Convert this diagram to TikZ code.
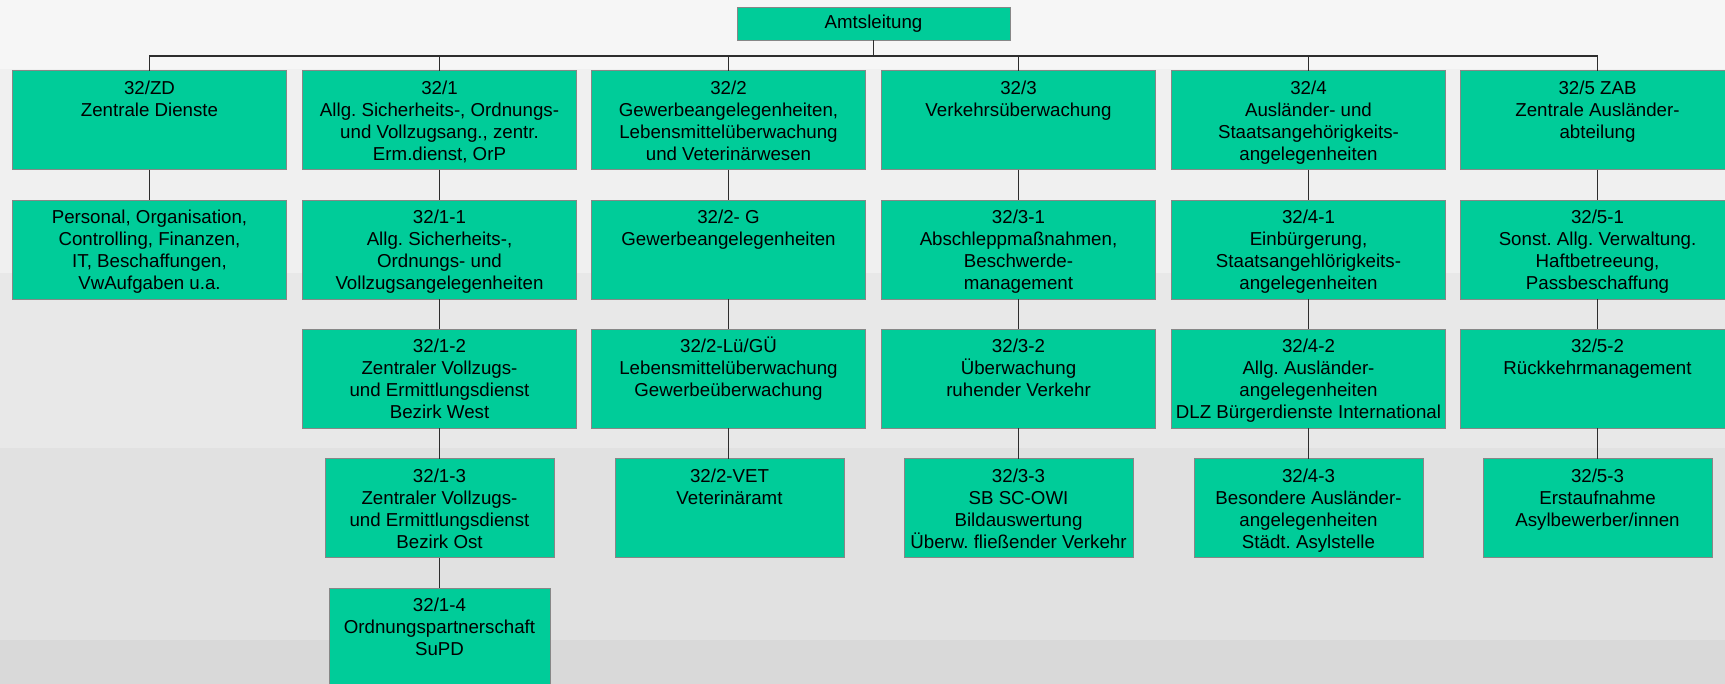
\documentclass[tikz,border=0pt]{standalone}
\usepackage{fontspec}
\setmainfont{Liberation Sans}
\frenchspacing
\definecolor{boxfill}{RGB}{0,204,153}
\definecolor{boxline}{RGB}{135,135,135}
\definecolor{connline}{RGB}{45,45,45}
\definecolor{bandA}{RGB}{246,246,246}
\definecolor{bandB}{RGB}{240,240,240}
\definecolor{bandC}{RGB}{232,232,232}
\definecolor{bandD}{RGB}{225,225,225}
\definecolor{bandE}{RGB}{217,217,217}
\newcommand{\lbl}[2]{\parbox[c][99pt][t]{#1}{\centering\rule{0pt}{23.5pt}#2}}
\tikzset{
  orgbox/.style={draw=boxline, fill=boxfill, line width=0.9pt, inner sep=0pt, outer sep=0pt,
    font=\fontsize{18.7}{22}\selectfont},
  conn/.style={draw=connline, line width=1.2pt}
}
\begin{document}
\begin{tikzpicture}[x=1pt,y=-1pt]
\useasboundingbox (0,0) rectangle (1725,684);
\clip (0,0) rectangle (1725,684);
% background bands
\fill[bandA] (0,0) rectangle (1725,69);
\fill[bandB] (0,69) rectangle (1725,273);
\fill[bandC] (0,273) rectangle (1725,448);
\fill[bandD] (0,448) rectangle (1725,640);
\fill[bandE] (0,640) rectangle (1725,684);

% top
\node[orgbox, minimum width=273pt, minimum height=32.5pt] (amt) at (873.5,24) {Amtsleitung};

% row 1
\node[orgbox] (r1c0) at (149.5,120.2) {\lbl{274.5pt}{32/ZD\\Zentrale Dienste}};
\node[orgbox] (r1c1) at (439.5,120.2) {\lbl{274.5pt}{32/1\\Allg. Sicherheits-, Ordnungs-\\und Vollzugsang., zentr.\\Erm.dienst, OrP}};
\node[orgbox] (r1c2) at (728.5,120.2) {\lbl{274.5pt}{32/2\\Gewerbeangelegenheiten,\\Lebensmittelüberwachung\\und Veterinärwesen}};
\node[orgbox] (r1c3) at (1018.5,120.2) {\lbl{274.5pt}{32/3\\Verkehrsüberwachung}};
\node[orgbox] (r1c4) at (1308.5,120.2) {\lbl{274.5pt}{32/4\\Ausländer- und\\Staatsangehörigkeits-\\angelegenheiten}};
\node[orgbox] (r1c5) at (1597.5,120.2) {\lbl{274.5pt}{32/5 ZAB\\Zentrale Ausländer-\\abteilung}};

% row 2
\node[orgbox] (r2c0) at (149.5,249.5) {\lbl{274.5pt}{Personal, Organisation,\\Controlling, Finanzen,\\IT, Beschaffungen,\\VwAufgaben u.a.}};
\node[orgbox] (r2c1) at (439.5,249.5) {\lbl{274.5pt}{32/1-1\\Allg. Sicherheits-,\\Ordnungs- und\\Vollzugsangelegenheiten}};
\node[orgbox] (r2c2) at (728.5,249.5) {\lbl{274.5pt}{32/2- G\\Gewerbeangelegenheiten}};
\node[orgbox] (r2c3) at (1018.5,249.5) {\lbl{274.5pt}{32/3-1\\Abschleppmaßnahmen,\\Beschwerde-\\management}};
\node[orgbox] (r2c4) at (1308.5,249.5) {\lbl{274.5pt}{32/4-1\\Einbürgerung,\\Staatsangehlörigkeits-\\angelegenheiten}};
\node[orgbox] (r2c5) at (1597.5,249.5) {\lbl{274.5pt}{32/5-1\\Sonst. Allg. Verwaltung.\\Haftbetreeung,\\Passbeschaffung}};

% row 3
\node[orgbox] (r3c1) at (439.5,378.8) {\lbl{274.5pt}{32/1-2\\Zentraler Vollzugs-\\und Ermittlungsdienst\\Bezirk West}};
\node[orgbox] (r3c2) at (728.5,378.8) {\lbl{274.5pt}{32/2-Lü/GÜ\\Lebensmittelüberwachung\\Gewerbeüberwachung}};
\node[orgbox] (r3c3) at (1018.5,378.8) {\lbl{274.5pt}{32/3-2\\Überwachung\\ruhender Verkehr}};
\node[orgbox] (r3c4) at (1308.5,378.8) {\lbl{274.5pt}{32/4-2\\Allg. Ausländer-\\angelegenheiten\\DLZ Bürgerdienste International}};
\node[orgbox] (r3c5) at (1597.5,378.8) {\lbl{274.5pt}{32/5-2\\Rückkehrmanagement}};

% row 4
\node[orgbox] (r4c1) at (439.5,508.2) {\lbl{229pt}{32/1-3\\Zentraler Vollzugs-\\und Ermittlungsdienst\\Bezirk Ost}};
\node[orgbox] (r4c2) at (729.5,508.2) {\lbl{229pt}{32/2-VET\\Veterinäramt}};
\node[orgbox] (r4c3) at (1018.5,508.2) {\lbl{229pt}{32/3-3\\SB SC-OWI\\Bildauswertung\\Überw. fließender Verkehr}};
\node[orgbox] (r4c4) at (1308.5,508.2) {\lbl{229pt}{32/4-3\\Besondere Ausländer-\\angelegenheiten\\Städt. Asylstelle}};
\node[orgbox] (r4c5) at (1597.5,508.2) {\lbl{229pt}{32/5-3\\Erstaufnahme\\Asylbewerber/innen}};

% row 5
\node[orgbox] (r5c1) at (439.5,637.5) {\lbl{221pt}{32/1-4\\Ordnungspartnerschaft\\SuPD}};

% connectors
\path (amt.south) ++(0,15.7) coordinate (bus);
\draw[conn] (amt.south) -- (bus);
\foreach \c in {r1c0,r1c1,r1c2,r1c3,r1c4,r1c5}
  \draw[conn] (bus) -| (\c.north);
\draw[conn] (r1c0.south) -- (r2c0.north);
\foreach \c in {1,2,3,4,5}{
  \draw[conn] (r1c\c.south) -- (r2c\c.north);
  \draw[conn] (r2c\c.south) -- (r3c\c.north);
  \draw[conn] (r3c\c.south) -- (r3c\c.south |- r4c\c.north);
}
\draw[conn] (r4c1.south) -- (r4c1.south |- r5c1.north);
\end{tikzpicture}
\end{document}
